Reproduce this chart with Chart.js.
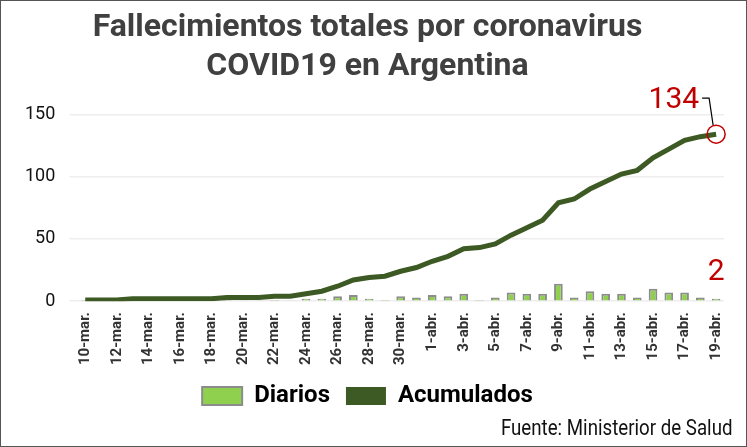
<!DOCTYPE html>
<html><head><meta charset="utf-8">
<script src="https://cdn.jsdelivr.net/npm/chart.js@4.4.0/dist/chart.umd.min.js"></script>
<style>
body{margin:0;background:#fff;}
#wrap{position:absolute;left:0;top:0;width:745px;height:445px;border:1px solid #555;}
#fuente{position:absolute;right:14px;bottom:6px;font:22px "Roboto";color:#111;transform:scaleX(0.85);transform-origin:right;}
</style></head><body>
<div id="wrap"><canvas id="c" width="745" height="445"></canvas>
<div id="fuente">Fuente: Ministerior de Salud</div></div>
<script>
// Fechas y valores
const fechas = [];
for (let d = 10; d <= 31; d++) fechas.push(d + '-mar.');
for (let d = 1; d <= 19; d++) fechas.push(d + '-abr.');
const etiquetas = fechas.map((f, i) => i % 2 === 0 ? f : '');
const diarios = [1,0,0,1,0,0,0,0,0,1,0,0,1,0,2,2,4,5,2,1,4,3,5,4,6,1,3,7,6,6,14,3,8,6,6,3,10,7,7,3,2];
const acumulados = [1,1,1,2,2,2,2,2,2,3,3,3,4,4,6,8,12,17,19,20,24,27,32,36,42,43,46,53,59,65,79,82,90,96,102,105,115,122,129,132,134];
const yTicks = [0, 50, 100, 150];

// Anotaciones del último valor
const anotaciones = {
  id: 'anotaciones',
  afterDatasetsDraw(chart) {
    const {ctx, scales: {x, y}} = chart;
    const n = acumulados.length - 1;
    const px = x.getPixelForValue(n), py = y.getPixelForValue(acumulados[n]);
    ctx.save();
    ctx.strokeStyle = '#c00000'; ctx.lineWidth = 1.5;
    ctx.beginPath(); ctx.arc(px, py, 9, 0, Math.PI * 2); ctx.stroke();
    ctx.strokeStyle = '#000'; ctx.lineWidth = 1.2;
    ctx.beginPath(); ctx.moveTo(px - 3, py - 9); ctx.lineTo(px - 7, py - 36); ctx.lineTo(px - 14, py - 36); ctx.stroke();
    ctx.fillStyle = '#c00000';
    ctx.font = '30px Roboto';
    ctx.textAlign = 'right'; ctx.textBaseline = 'middle';
    ctx.fillText(String(acumulados[n]), px - 17, py - 34);
    ctx.textAlign = 'center';
    ctx.fillText(String(diarios[n]), px, y.getPixelForValue(diarios[n]) - 26);
    ctx.restore();
  }
};

new Chart(document.getElementById('c').getContext('2d'), {
  data: {
    labels: etiquetas,
    datasets: [{
      type: 'line', label: 'Acumulados', data: acumulados,
      borderColor: '#3d5a24', backgroundColor: '#3d5a24', borderWidth: 5,
      pointRadius: 0, tension: 0, order: 1
    }, {
      type: 'bar', label: 'Diarios', data: diarios.map(v => v === 0 ? 0.3 : v),
      backgroundColor: '#8fd14f', borderColor: '#8c8c8c', borderWidth: 2,
      barPercentage: 0.55, categoryPercentage: 1, order: 2
    }]
  },
  options: {
    responsive: false, animation: false,
    layout: {padding: {left: 10, right: 22, top: 0, bottom: 28}},
    plugins: {
      title: {display: true, text: ['Fallecimientos totales por coronavirus', 'COVID19 en Argentina'],
        color: '#404040', font: {family: 'Roboto', size: 32, weight: 'bold', lineHeight: 1.2}, padding: {top: 8, bottom: 16}},
      legend: {position: 'bottom',
        labels: {color: '#404040', font: {family: 'Roboto', size: 24, weight: 'bold'},
          boxWidth: 40, boxHeight: 18, padding: 16,
          generateLabels: chart => [
            {text: 'Diarios', fillStyle: '#8fd14f', strokeStyle: '#8c8c8c', lineWidth: 2, datasetIndex: 1},
            {text: 'Acumulados', fillStyle: '#3d5a24', strokeStyle: '#3d5a24', lineWidth: 0, datasetIndex: 0}
          ]}},
      tooltip: {enabled: false}
    },
    scales: {
      x: {grid: {display: false}, border: {display: false},
        ticks: {autoSkip: false, maxRotation: 90, minRotation: 90, color: '#333',
          font: {family: 'Roboto', size: 15, weight: 'bold'}}},
      y: {min: 0, max: 160, afterBuildTicks: s => { s.ticks = yTicks.map(v => ({value: v})); },
        grid: {color: '#eeeeee', lineWidth: 1.5}, border: {display: false},
        ticks: {color: '#111', padding: 14, font: {family: 'Roboto', size: 18}}}
    }
  },
  plugins: [anotaciones]
});
</script>
</body></html>
